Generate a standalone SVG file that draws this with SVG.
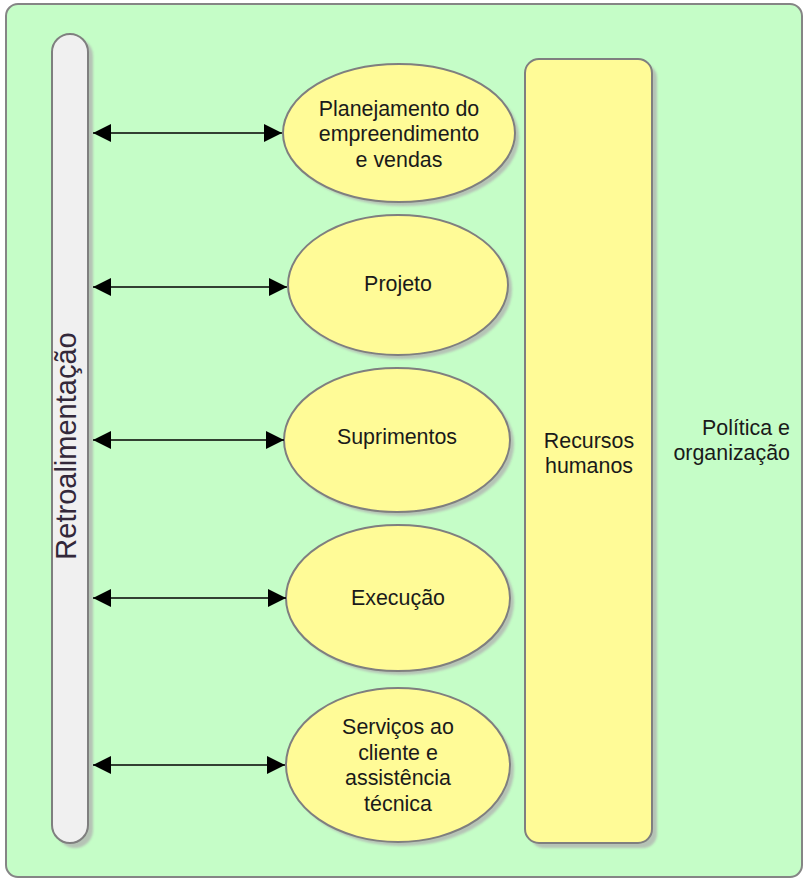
<svg xmlns="http://www.w3.org/2000/svg" width="804" height="879" viewBox="0 0 804 879">
  <defs>
    <style>
      .frame { fill: #c5fdc7; stroke: #858585; stroke-width: 2; }
      .bar { fill: #f0f0f0; stroke: #7f7f7f; stroke-width: 2; }
      .node { fill: #fffb97; stroke: #7f7f7f; stroke-width: 2; }
      .shadow { fill: #b0b0b0; opacity: 0.75; filter: url(#soft); }
      .lbl { font-family: "Liberation Sans", Arial, sans-serif; font-size: 21.4px; fill: #1a1a1a; text-anchor: middle; }
      .side { font-family: "Liberation Sans", Arial, sans-serif; font-size: 21.4px; fill: #1a1a1a; text-anchor: end; }
      .vert { font-family: "Liberation Sans", Arial, sans-serif; font-size: 29px; fill: #33283a; text-anchor: middle; }
      .link { stroke: #000; stroke-width: 1.6; fill: none; marker-start: url(#head); marker-end: url(#head); }
    </style>
    <filter id="soft" x="-10%" y="-10%" width="120%" height="120%">
      <feGaussianBlur stdDeviation="1"/>
    </filter>
    <marker id="head" viewBox="0 0 18 18" refX="18" refY="9" markerWidth="18" markerHeight="18" markerUnits="userSpaceOnUse" orient="auto-start-reverse">
      <path d="M0,0 L18,9 L0,18 z" fill="#000"/>
    </marker>
  </defs>

  <!-- outer frame: Política e organização -->
  <g id="politica">
    <rect class="frame" x="6" y="4" width="796" height="873" rx="12" ry="12"/>
    <text class="side" x="790" y="435">Política e</text>
    <text class="side" x="790" y="460">organização</text>
  </g>

  <!-- feedback bar -->
  <g id="retroalimentacao">
    <rect class="shadow" x="57" y="38" width="36" height="810" rx="18" ry="18"/>
    <rect class="bar" x="52" y="34" width="36" height="809" rx="18" ry="18"/>
    <text class="vert" transform="translate(76,446) rotate(-90)">Retroalimentação</text>
  </g>

  <!-- human resources column -->
  <g id="recursos-humanos">
    <rect class="shadow" x="530" y="64" width="127" height="784" rx="14" ry="14"/>
    <rect class="node" x="525" y="59" width="127" height="784" rx="14" ry="14"/>
    <text class="lbl" x="589" y="448">Recursos</text>
    <text class="lbl" x="589" y="473">humanos</text>
  </g>

  <!-- process stages -->
  <g id="planejamento">
    <ellipse class="shadow" cx="403" cy="137" rx="116" ry="69"/>
    <ellipse class="node" cx="399" cy="133" rx="116" ry="69"/>
    <text class="lbl" x="399" y="116">Planejamento do</text>
    <text class="lbl" x="399" y="141">empreendimento</text>
    <text class="lbl" x="399" y="167">e vendas</text>
  </g>

  <g id="projeto">
    <ellipse class="shadow" cx="402" cy="289" rx="110" ry="70"/>
    <ellipse class="node" cx="398" cy="285" rx="110" ry="70"/>
    <text class="lbl" x="398" y="291">Projeto</text>
  </g>

  <g id="suprimentos">
    <ellipse class="shadow" cx="401" cy="444" rx="113" ry="72"/>
    <ellipse class="node" cx="397" cy="440" rx="113" ry="72"/>
    <text class="lbl" x="397" y="444">Suprimentos</text>
  </g>

  <g id="execucao">
    <ellipse class="shadow" cx="402" cy="602" rx="112" ry="73"/>
    <ellipse class="node" cx="398" cy="598" rx="112" ry="73"/>
    <text class="lbl" x="398" y="605">Execução</text>
  </g>

  <g id="servicos">
    <ellipse class="shadow" cx="402" cy="769" rx="112" ry="77"/>
    <ellipse class="node" cx="398" cy="765" rx="112" ry="77"/>
    <text class="lbl" x="398" y="734">Serviços ao</text>
    <text class="lbl" x="398" y="759.5">cliente e</text>
    <text class="lbl" x="398" y="785">assistência</text>
    <text class="lbl" x="398" y="810.5">técnica</text>
  </g>

  <!-- two-way links between the feedback bar and each stage -->
  <g id="connectors">
    <line class="link" x1="93" y1="133" x2="282" y2="133"/>
    <line class="link" x1="93" y1="287" x2="287" y2="287"/>
    <line class="link" x1="93" y1="440" x2="284" y2="440"/>
    <line class="link" x1="93" y1="598" x2="286" y2="598"/>
    <line class="link" x1="93" y1="765" x2="285" y2="765"/>
  </g>
</svg>
